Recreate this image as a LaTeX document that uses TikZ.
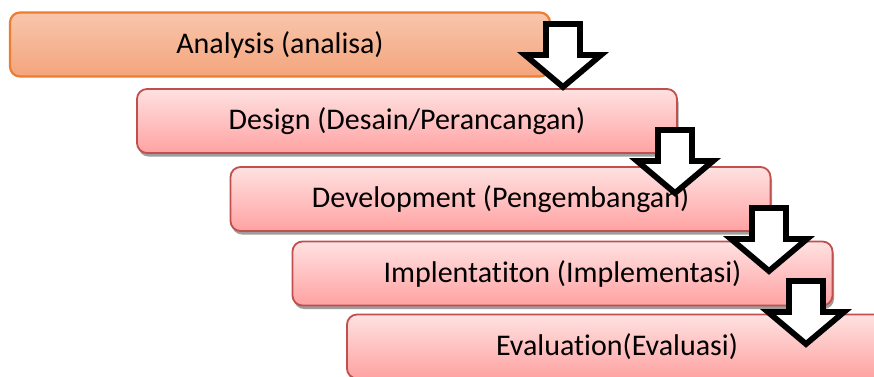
\documentclass[tikz,border=0pt]{standalone}
\usepackage{fontspec}
\setmainfont[Ligatures=NoCommon]{Carlito}
\usetikzlibrary{shadows}
\definecolor{orTop}{HTML}{F8C6AC}
\definecolor{orBot}{HTML}{F4A47C}
\definecolor{orLine}{HTML}{ED7D31}
\definecolor{pkTop}{HTML}{FFE1E1}
\definecolor{pkBot}{HTML}{FFA2A2}
\definecolor{pkLine}{HTML}{C0504D}
\newcommand\downblock[2]{%
  \draw[blockarrow] (#1-17,#2) -- (#1+17,#2) -- (#1+17,#2+31) -- (#1+38,#2+31)
    -- (#1,#2+63) -- (#1-38,#2+31) -- (#1-17,#2+31) -- cycle;}
\begin{document}
\begin{tikzpicture}[x=1pt,y=-1pt,
  phase/.style={rounded corners=10pt, minimum width=540pt, minimum height=64pt,
    inner sep=0pt, font=\fontsize{30}{36}\selectfont, line width=1.8pt},
  pinkbox/.style={phase, top color=pkTop, bottom color=pkBot, draw=pkLine,
    drop shadow={shadow xshift=1.5pt, shadow yshift=-3.5pt, fill=black!38, opacity=1}},
  orangebox/.style={phase, top color=orTop, bottom color=orBot, draw=orLine, line width=2.2pt},
  blockarrow/.style={draw=black, fill=white, line width=5.8pt, line join=miter}
]
\useasboundingbox (0,0) rectangle (874,376);
\clip (0,0) rectangle (874,376);
\node[orangebox] (b1) at (280,44.5) {Analysis (analisa)};
\node[pinkbox] (b2) at (407,121) {Design (Desain/Perancangan)};
\node[pinkbox] (b3) at (500.5,199) {Development (Pengembangan)};
\node[pinkbox] (b4) at (562.5,273.5) {Implentatiton (Implementasi)};
\node[pinkbox] (b5) at (617,346.5) {Evaluation(Evaluasi)};
\downblock{563}{24}
\downblock{675}{130}
\downblock{769}{208}
\downblock{806}{281}
\end{tikzpicture}
\end{document}
